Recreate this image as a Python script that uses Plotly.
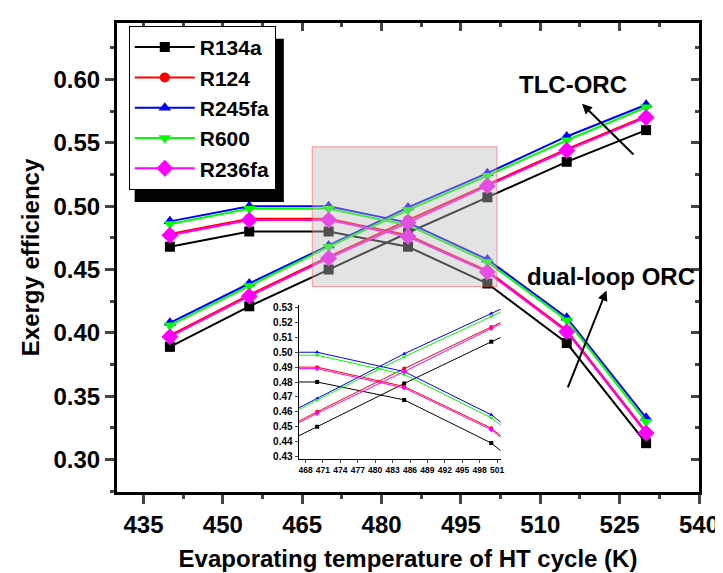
import plotly.graph_objects as go

# ---------------- data ----------------
temps = [440, 455, 470, 485, 500, 515, 530]
fluids = ["R134a", "R124", "R245fa", "R600", "R236fa"]

tlc_R134a = [0.389, 0.421, 0.450, 0.479, 0.507, 0.535, 0.560]
tlc_R124 = [0.398, 0.430, 0.460, 0.489, 0.517, 0.545, 0.571]
tlc_R245fa = [0.408, 0.439, 0.469, 0.499, 0.526, 0.555, 0.580]
tlc_R600 = [0.406, 0.437, 0.468, 0.497, 0.524, 0.552, 0.578]
tlc_R236fa = [0.397, 0.429, 0.459, 0.487, 0.516, 0.544, 0.570]

dual_R134a = [0.468, 0.480, 0.480, 0.468, 0.439, 0.392, 0.313]
dual_R124 = [0.478, 0.490, 0.490, 0.477, 0.449, 0.402, 0.322]
dual_R245fa = [0.488, 0.500, 0.500, 0.487, 0.458, 0.412, 0.333]
dual_R600 = [0.486, 0.498, 0.498, 0.485, 0.456, 0.410, 0.330]
dual_R236fa = [0.477, 0.489, 0.489, 0.476, 0.448, 0.401, 0.321]

tlc = [tlc_R134a, tlc_R124, tlc_R245fa, tlc_R600, tlc_R236fa]
dual = [dual_R134a, dual_R124, dual_R245fa, dual_R600, dual_R236fa]

colors = ["#000000", "#ff0000", "#0000ff", "#00ff00", "#ff00ff"]
symbols = ["square", "circle", "triangle-up", "triangle-down", "diamond"]
msizes = [10, 10, 11, 11, 13]

FONT = "Liberation Sans, Arial, sans-serif"

fig = go.Figure()

# main traces
for i, name in enumerate(fluids):
    for k, series in enumerate([tlc[i], dual[i]]):
        fig.add_trace(go.Scatter(
            x=temps, y=series, mode="lines+markers", name=name,
            legendgroup=name, showlegend=(k == 0),
            line=dict(color=colors[i], width=2),
            marker=dict(symbol=symbols[i], size=msizes[i], color=colors[i]),
            xaxis="x", yaxis="y", cliponaxis=False,
        ))

# inset traces
for i, name in enumerate(fluids):
    for series in [tlc[i], dual[i]]:
        fig.add_trace(go.Scatter(
            x=temps, y=series, mode="lines+markers", showlegend=False,
            line=dict(color=colors[i], width=1),
            marker=dict(symbol=symbols[i], size=4, color=colors[i]),
            xaxis="x2", yaxis="y2",
        ))

# empty traces to carry the mirrored inner-tick axes
fig.add_trace(go.Scatter(x=[], y=[], xaxis="x3", yaxis="y", showlegend=False))
fig.add_trace(go.Scatter(x=[], y=[], xaxis="x", yaxis="y3", showlegend=False))

tickfont = dict(family=FONT, size=24, color="black", weight="bold")
titlefont = dict(family=FONT, size=24, color="black", weight="bold")

XR = [430, 540]
YR = [0.2745, 0.6445]

# plot-area pixel frame (for paper-referenced decorations)
L, R, T, B = 109, 702, 14, 491


def px_x(p):
    return (p - L) / (R - L)


def px_y(p):
    return (B - p) / (B - T)


fig.update_layout(
    width=723, height=573,
    margin=dict(l=L, r=723 - R, t=T, b=573 - B),
    paper_bgcolor="white", plot_bgcolor="white",
    showlegend=True,
    xaxis=dict(
        range=XR, tick0=435, dtick=15, ticks="outside", ticklen=9, tickwidth=2.5,
        showline=True, linewidth=3, linecolor="black", mirror=True,
        showgrid=False, zeroline=False, tickfont=tickfont,
        minor=dict(dtick=7.5, ticks="outside", ticklen=4, tickwidth=2.5),
        title=dict(text="Evaporating temperature of HT cycle (K)", font=titlefont, standoff=14),
    ),
    yaxis=dict(
        range=YR, tick0=0.30, dtick=0.05, tickformat=".2f", ticks="outside", ticklen=9,
        tickwidth=2.5, showline=True, linewidth=3, linecolor="black", mirror=True,
        showgrid=False, zeroline=False, tickfont=tickfont,
        minor=dict(dtick=0.025, ticks="outside", ticklen=4, tickwidth=2.5),
        title=dict(text="Exergy efficiency", font=titlefont, standoff=8),
    ),
    xaxis3=dict(
        range=XR, overlaying="x", side="top", anchor="y", tick0=435, dtick=15,
        ticks="inside", ticklen=8, tickwidth=2.5, showticklabels=False,
        showline=False, showgrid=False, zeroline=False,
        minor=dict(dtick=7.5, ticks="inside", ticklen=4, tickwidth=2.5),
    ),
    yaxis3=dict(
        range=YR, overlaying="y", side="right", anchor="x", tick0=0.30, dtick=0.05,
        ticks="inside", ticklen=8, tickwidth=2.5, showticklabels=False,
        showline=False, showgrid=False, zeroline=False,
        minor=dict(dtick=0.025, ticks="inside", ticklen=4, tickwidth=2.5),
    ),
    xaxis2=dict(
        domain=[0.312, 0.659], anchor="y2", range=[466.8, 501.6],
        tick0=468, dtick=3, ticks="outside", ticklen=3, tickwidth=1,
        showline=True, linewidth=1, linecolor="black", showgrid=False, zeroline=False,
        tickfont=dict(family=FONT, size=8.5, color="black", weight="bold"),
    ),
    yaxis2=dict(
        domain=[0.071, 0.398], anchor="x2", range=[0.4285, 0.5315],
        dtick=0.01, tickformat=".2f", ticks="outside", ticklen=3, tickwidth=1,
        showline=True, linewidth=1, linecolor="black", showgrid=False, zeroline=False,
        tickfont=dict(family=FONT, size=10, color="black", weight="bold"),
    ),
    legend=dict(
        x=px_x(121), y=px_y(17), xanchor="left", yanchor="top",
        bgcolor="white", bordercolor="black", borderwidth=1,
        font=dict(family=FONT, size=21, color="black", weight="bold"),
        tracegroupgap=0, itemwidth=60,
    ),
    shapes=[
        # legend drop shadow
        dict(type="rect", xref="paper", yref="paper", layer="above",
             x0=px_x(127), x1=px_x(279), y0=px_y(196), y1=px_y(30),
             fillcolor="black", line=dict(width=0)),
        # zoom region
        dict(type="rect", xref="x", yref="y", layer="above",
             x0=466.9, x1=501.8, y0=0.4366, y1=0.5468,
             fillcolor="rgba(189,189,189,0.42)",
             line=dict(color="rgba(255,60,60,0.5)", width=1)),
    ],
    annotations=[
        dict(x=516.2, y=0.5962, xref="x", yref="y", text="TLC-ORC", showarrow=False,
             font=dict(family=FONT, size=24, color="black", weight="bold")),
        dict(x=523.3, y=0.4442, xref="x", yref="y", text="dual-loop ORC", showarrow=False,
             font=dict(family=FONT, size=24, color="black", weight="bold")),
        dict(x=517.9, y=0.5807, ax=527.9, ay=0.5396, xref="x", yref="y",
             axref="x", ayref="y", text="", showarrow=True, arrowhead=2,
             arrowsize=1, arrowwidth=2, arrowcolor="black"),
        dict(x=522.5, y=0.4334, ax=515.1, ay=0.3559, xref="x", yref="y",
             axref="x", ayref="y", text="", showarrow=True, arrowhead=2,
             arrowsize=1, arrowwidth=2, arrowcolor="black"),
    ],
)

fig.write_html("out.html")
